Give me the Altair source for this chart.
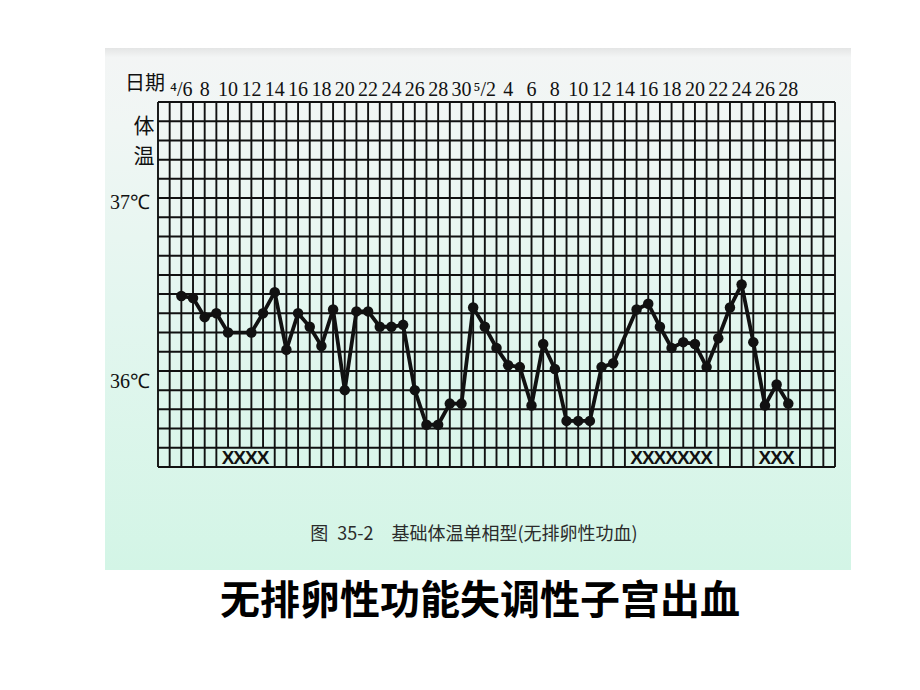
import altair as alt
import pandas as pd

# ---------------- data ----------------
april_days = [6, 7, 8, 9, 10, 12, 13, 14, 15, 16, 17, 18, 19, 20, 21, 22, 23, 24, 25, 26, 27, 28, 29, 30]
april_temps = [36.49, 36.48, 36.38, 36.40, 36.30, 36.30, 36.40, 36.51, 36.21, 36.40, 36.33, 36.23,
               36.42, 36.00, 36.41, 36.41, 36.33, 36.33, 36.34, 36.00, 35.82, 35.82, 35.93, 35.93]
may_days = [1, 2, 3, 4, 5, 6, 7, 8, 9, 10, 11, 12, 13, 15, 16, 17, 18, 19, 20, 21, 22, 23, 24, 25, 26, 27, 28]
may_temps = [36.43, 36.33, 36.22, 36.13, 36.12, 35.92, 36.24, 36.11, 35.84, 35.84, 35.84, 36.12, 36.14,
             36.42, 36.45, 36.33, 36.22, 36.25, 36.24, 36.12, 36.27, 36.43, 36.55, 36.25, 35.92, 36.03, 35.93]

# menstruation days marked with X
menses_april = [10, 11, 12, 13]
menses_may = [15, 16, 17, 18, 19, 20, 21, 26, 27, 28]

# top date labels
tick_april = [6, 8, 10, 12, 14, 16, 18, 20, 22, 24, 26, 28, 30]
tick_may = [2, 4, 6, 8, 10, 12, 14, 16, 18, 20, 22, 24, 26, 28]
tick_labels = ["\u2074/6", "8", "10", "12", "14", "16", "18", "20", "22", "24", "26", "28", "30",
               "\u2075/2", "4", "6", "8", "10", "12", "14", "16", "18", "20", "22", "24", "26", "28"]

# chart frame: 4/4 .. 6/1 (index 0..58), 35.6 .. 37.5 C
x_domain = [0, 58]
y_domain = [35.6, 37.5]

caption = "图\u200235-2\u3000基础体温单相型(无排卵性功血)"
big_title = "无排卵性功能失调性子宫出血"


def idx(month, day):
    return day - 4 if month == 4 else day + 26


# ---------------- tables ----------------
bbt = pd.DataFrame({
    "i": [idx(4, d) for d in april_days] + [idx(5, d) for d in may_days],
    "t": april_temps + may_temps,
})
menses_idx = [idx(4, d) for d in menses_april] + [idx(5, d) for d in menses_may]
marks_df = pd.DataFrame({"i": menses_idx, "s": ["X"] * len(menses_idx)})

vlines = pd.DataFrame({"i": list(range(x_domain[0], x_domain[1] + 1))})
vlines["bottom"] = [y_domain[0] + 0.1 if i in menses_idx else y_domain[0] for i in vlines["i"]]
vlines["top"] = y_domain[1]

hlines = pd.DataFrame({"t": [round(y_domain[0] + 0.1 * k, 1) for k in range(20)]})
hlines["x0"] = x_domain[0]
hlines["x1"] = x_domain[1]

ticks_df = pd.DataFrame({
    "i": [idx(4, d) for d in tick_april] + [idx(5, d) for d in tick_may],
    "lab": tick_labels,
})

xs = alt.Scale(domain=x_domain, nice=False, zero=False)
ys = alt.Scale(domain=y_domain, nice=False, zero=False)

one = pd.DataFrame({"a": [0]})

INK = "#111111"

bg = alt.Chart(one).mark_rect(
    color=alt.LinearGradient(
        gradient="linear", x1=0, y1=0, x2=0, y2=1,
        stops=[
            alt.GradientStop(offset=0.0, color="#e4e5e5"),
            alt.GradientStop(offset=0.018, color="#f3f5f5"),
            alt.GradientStop(offset=0.15, color="#f0f6f4"),
            alt.GradientStop(offset=0.5, color="#e3f6ef"),
            alt.GradientStop(offset=1.0, color="#d3f5e6"),
        ],
    )
).encode(x=alt.value(-53), x2=alt.value(693), y=alt.value(-54), y2=alt.value(468))

h_rules = alt.Chart(hlines).mark_rule(color=INK, strokeWidth=2.0).encode(
    y=alt.Y("t:Q", scale=ys, axis=None),
    x=alt.X("x0:Q", scale=xs, axis=None),
    x2="x1:Q",
)

v_rules = alt.Chart(vlines).mark_rule(color=INK, strokeWidth=1.9).encode(
    x=alt.X("i:Q", scale=xs, axis=None),
    y=alt.Y("bottom:Q", scale=ys, axis=None),
    y2="top:Q",
)

line = alt.Chart(bbt).mark_line(color=INK, strokeWidth=3.8).encode(
    x=alt.X("i:Q", scale=xs, axis=None),
    y=alt.Y("t:Q", scale=ys, axis=None),
)
dots = alt.Chart(bbt).mark_circle(color=INK, size=110, opacity=1).encode(
    x=alt.X("i:Q", scale=xs, axis=None),
    y=alt.Y("t:Q", scale=ys, axis=None),
)

xmarks = alt.Chart(marks_df).mark_text(
    font="Liberation Sans", fontSize=19, fontWeight="bold", color=INK, baseline="middle", align="center",
).encode(
    x=alt.X("i:Q", scale=xs, axis=None),
    y=alt.value(356),
    text="s:N",
)

top_labels = alt.Chart(ticks_df).mark_text(
    font="Liberation Serif", fontSize=20, color=INK, baseline="alphabetic", align="center"
).encode(
    x=alt.X("i:Q", scale=xs, axis=None),
    y=alt.value(-6),
    text="lab:N",
)

date_word = alt.Chart(one).mark_text(
    text="日期", font="Noto Sans CJK SC", fontSize=20, color=INK, align="right", baseline="middle"
).encode(x=alt.value(7), y=alt.value(-18))

ti_word = alt.Chart(one).mark_text(
    text="体", font="Noto Sans CJK SC", fontSize=21, color=INK, align="center", baseline="middle"
).encode(x=alt.value(-14), y=alt.value(25))
wen_word = alt.Chart(one).mark_text(
    text="温", font="Noto Sans CJK SC", fontSize=21, color=INK, align="center", baseline="middle"
).encode(x=alt.value(-14), y=alt.value(55))

t37 = alt.Chart(pd.DataFrame({"t": [37.0], "lab": ["37\u2103"]})).mark_text(
    font="Liberation Serif", fontSize=20, color=INK, align="right", baseline="middle", dy=5
).encode(y=alt.Y("t:Q", scale=ys, axis=None), x=alt.value(-8), text="lab:N")
t36 = alt.Chart(pd.DataFrame({"t": [36.0], "lab": ["36\u2103"]})).mark_text(
    font="Liberation Serif", fontSize=20, color=INK, align="right", baseline="middle", dy=-8
).encode(y=alt.Y("t:Q", scale=ys, axis=None), x=alt.value(-8), text="lab:N")

cap = alt.Chart(one).mark_text(
    text=caption, font="Noto Sans CJK SC", fontSize=18, color="#2b2b2b", align="center", baseline="middle"
).encode(x=alt.value(316), y=alt.value(433))

title_t = alt.Chart(one).mark_text(
    text=big_title, font="Noto Sans CJK SC", fontSize=40, fontWeight="bold", color="#000000",
    align="center", baseline="middle"
).encode(x=alt.value(322), y=alt.value(500))

chart = alt.layer(
    bg, h_rules, v_rules, line, dots, xmarks, top_labels, date_word, ti_word, wen_word, t37, t36, cap, title_t
).properties(
    width=677,
    height=365,
    autosize=alt.AutoSizeParams(type="none"),
    padding={"left": 150, "top": 94, "right": 77, "bottom": 215},
    background="white",
).configure_view(stroke=None)

chart.save("out.html", embed_options={"renderer": "svg", "actions": False})
